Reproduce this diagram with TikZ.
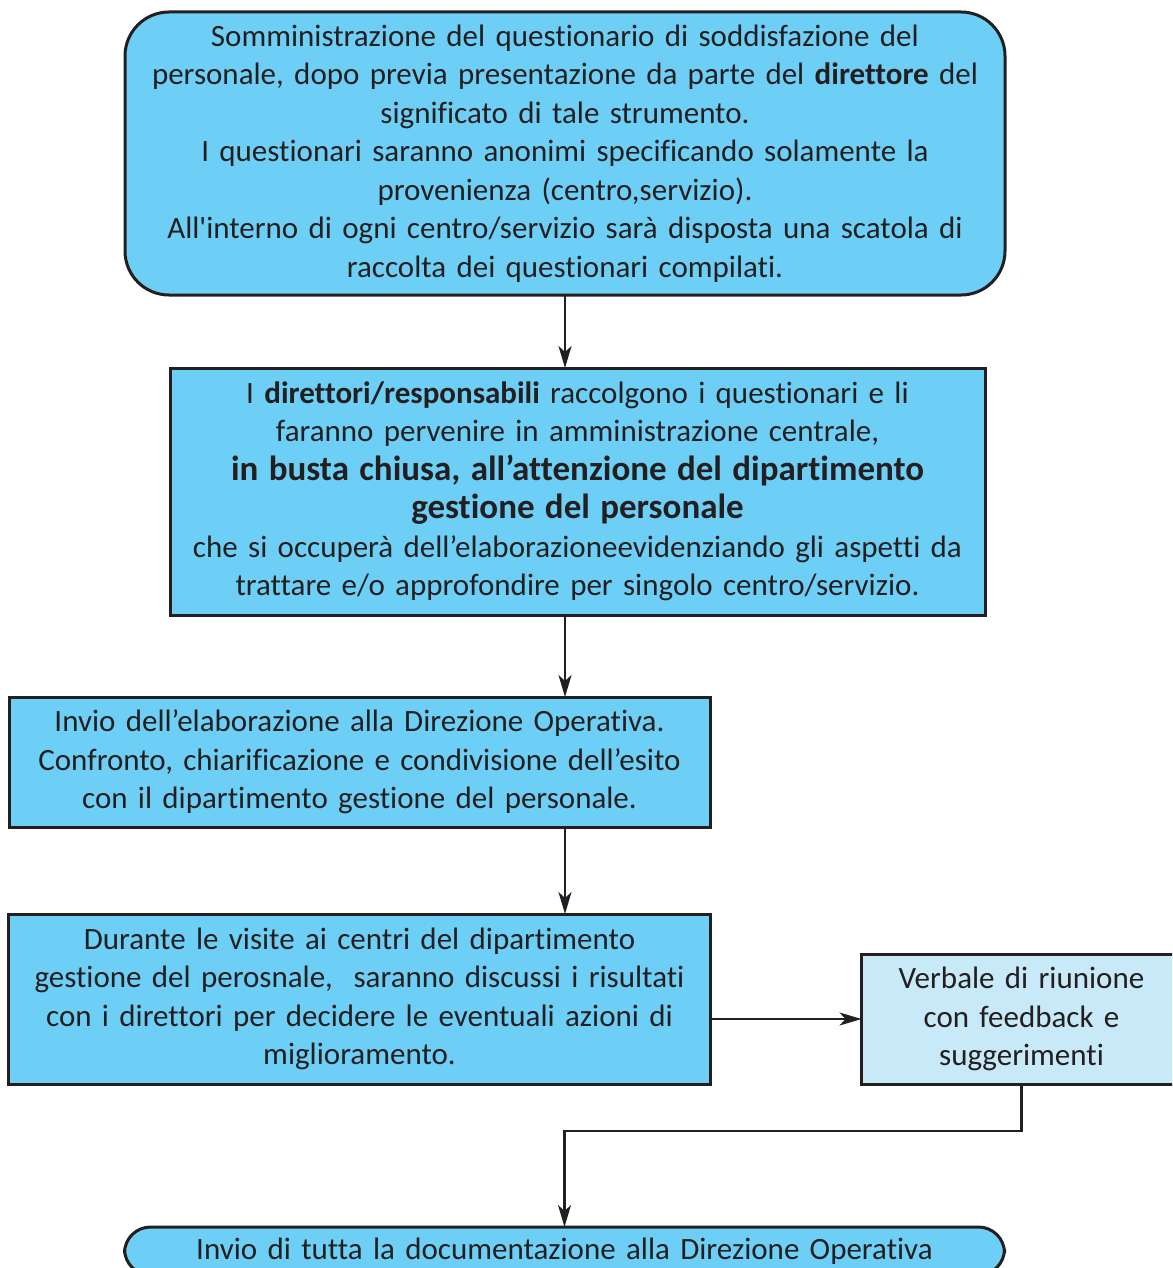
\documentclass[tikz,border=0pt]{standalone}
\usepackage{fontspec}
\setmainfont[Ligatures=NoCommon]{Carlito}
\newfontfamily\straightfont[Ligatures=NoCommon]{Carlito}
\usepackage{xcolor}
\usetikzlibrary{positioning,arrows.meta}
\definecolor{ink}{HTML}{231F20}
\definecolor{sky}{HTML}{6DCFF6}
\definecolor{palesky}{HTML}{C7E9F8}
\newcommand{\bigbold}[1]{{\fontsize{17.5}{19.25}\selectfont\bfseries #1}}

\begin{document}
\begin{tikzpicture}[
  stepbox/.style={fill=sky, draw=ink, line width=1.5pt, inner xsep=0pt,
                  inner ysep=0pt, outer sep=0pt, align=center, text=ink,
                  font=\fontsize{15.5}{19.25}\selectfont},
  roundbox/.style={stepbox, rounded corners=22pt},
  notebox/.style={stepbox, fill=palesky},
  arrow/.style={->, >={Stealth[length=11pt,width=6.5pt,inset=3pt]},
                line width=1.1pt, color=ink},
  node distance=36.5pt
]
\useasboundingbox (0,0) rectangle (586pt,-634pt);
\clip (0,0) rectangle (586pt,-634pt);

\node[roundbox, text width=440pt, minimum height=141.5pt] (quest) at (282.5pt,-76.75pt)
  {Somministrazione del questionario di soddisfazione del\\
   personale, dopo previa presentazione da parte del \textbf{direttore} del\\
   significato di tale strumento.\\
   I questionari saranno anonimi specificando solamente la\\
   provenienza (centro,servizio).\\
   All{\straightfont'}interno di ogni centro/servizio sarà disposta una scatola di\\
   raccolta dei questionari compilati.};
\node[stepbox, text width=407.5pt, minimum height=123.5pt, below=of quest, xshift=6.25pt] (racc)
  {I \textbf{direttori/responsabili} raccolgono i questionari e li\\
   faranno pervenire in amministrazione centrale,\\
   \bigbold{in busta chiusa, all’attenzione del dipartimento}\\
   \bigbold{gestione del personale}\\
   che si occuperà dell’elaborazioneevidenziando gli aspetti da\\
   trattare e/o approfondire per singolo centro/servizio.};
\node[stepbox, text width=350.5pt, minimum height=65pt, below=41pt of racc.south west,
      anchor=north west, xshift=-80.5pt] (invio)
  {Invio dell’elaborazione alla Direzione Operativa.\\
   Confronto, chiarificazione e condivisione dell’esito\\
   con il dipartimento gestione del personale.};
\node[stepbox, text width=351pt, minimum height=85pt, below=43.5pt of invio] (visite)
  {Durante le visite ai centri del dipartimento\\
   gestione del perosnale,\ \ saranno discussi i risultati\\
   con i direttori per decidere le eventuali azioni di\\
   miglioramento.};
\node[notebox, text width=160pt, minimum height=65pt, right=75.5pt of visite, yshift=-10pt] (verb)
  {Verbale di riunione\\ con feedback e\\ suggerimenti};
\node[roundbox, rounded corners=13pt, text width=440pt, minimum height=24pt,
      below=71.5pt of visite, xshift=102.5pt] (doc)
  {Invio di tutta la documentazione alla Direzione Operativa};

\coordinate[below=23.5pt of verb.south] (join);

\draw[arrow] (quest.south) -- (quest.south |- racc.north);
\draw[arrow] (quest.south |- racc.south) -- (quest.south |- invio.north);
\draw[arrow] (quest.south |- invio.south) -- (quest.south |- visite.north);
\draw[arrow] (visite.east |- verb.west) -- (verb.west);
\draw[arrow] (verb.south) -- (join) -| (doc.north);

\end{tikzpicture}
\end{document}
